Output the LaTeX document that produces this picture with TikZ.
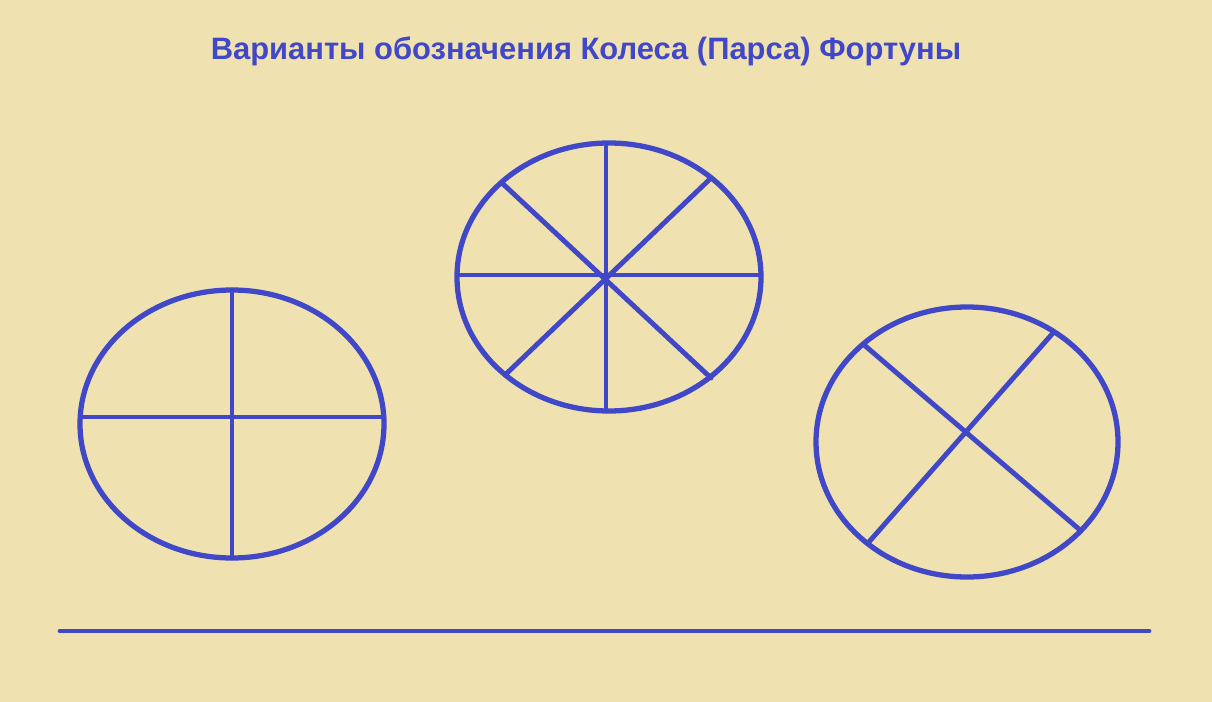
\documentclass[tikz,border=0pt]{standalone}
\usepackage{fontspec}
\setmainfont{Liberation Sans}
\definecolor{fon}{RGB}{240,226,176}
\definecolor{sin}{RGB}{64,72,200}
\tikzset{koleso/.style={sin,line width=3pt},
	spica/.style={sin,line width=2.8pt,line cap=round}}
\begin{document}
\begin{tikzpicture}[x=0.02cm,y=-0.02cm]
	\fill[fon](0,0)rectangle(1212,702);
	\useasboundingbox(0,0)rectangle(1212,702);
	\node[sin,font=\bfseries\fontsize{17.6}{19}\selectfont](zag) at (586,51) {Варианты обозначения Колеса (Парса) Фортуны};
	% левое колесо
	\draw[koleso](232,424) ellipse (152 and 134);
	\draw[spica](232,291)--(232,558);
	\draw[spica](81,417)--(384,417);
	% среднее колесо
	\draw[koleso](609,277) ellipse (152 and 134);
	\draw[spica](606,145)--(606,411);
	\draw[spica](458,275)--(761,275);
	\draw[spica](502,183)--(711,378);
	\draw[spica](710,179)--(505,375);
	% правое колесо
	\draw[koleso](967,442) ellipse (151 and 135);
	\draw[spica](863,344)--(1080,530);
	\draw[spica](1053,333)--(868,543);
	% линия
	\draw[spica](60,631)--(1149,631);
\end{tikzpicture}
\end{document}
